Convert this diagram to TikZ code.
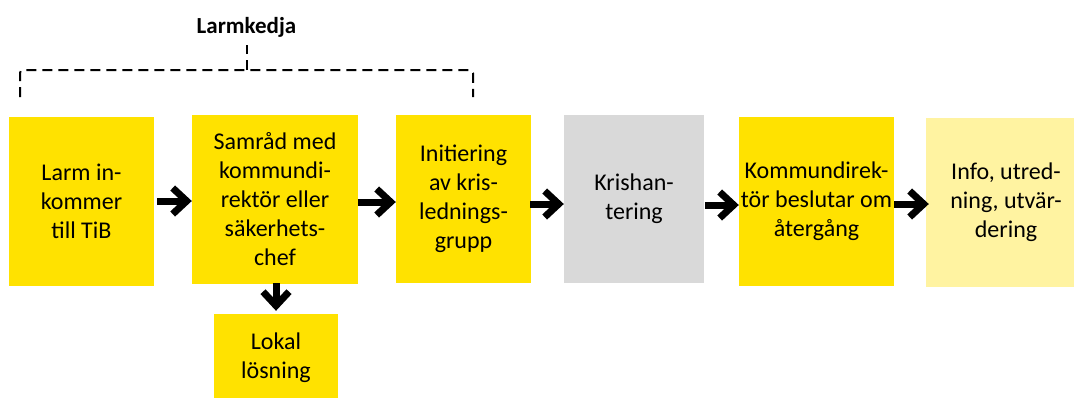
\documentclass[tikz,border=0pt]{standalone}
\usepackage{fontspec}
\setmainfont{Carlito}
\usetikzlibrary{arrows.meta,positioning}
\definecolor{boxyellow}{HTML}{FFE200}
\definecolor{boxgrey}{HTML}{D9D9D9}
\definecolor{boxpale}{HTML}{FFF3A1}
\tikzset{
  stage/.style={rectangle,fill=boxyellow,inner sep=0pt,align=center,
    font=\fontsize{24}{29}\selectfont},
  flow/.style={line width=7pt,-{Straight Barb[length=14pt,width=26pt]}},
  chain/.style={line width=2pt,dash pattern=on 10pt off 6pt},
}
\begin{document}
\begin{tikzpicture}[x=1pt,y=-1pt]
\useasboundingbox (0,0) rectangle (1074,397);
% \draw[help lines] (0,0) grid (1074,397);
\node (larm) [stage,minimum width=145pt,minimum height=169pt] at (81.5,201.5) {Larm in-\\kommer\\till TiB};
\node (samrad) [stage,minimum width=166pt,minimum height=169pt] at (275,199.5) {Samråd med\\kommundi-\\rektör eller\\säkerhets-\\chef};
\node (init) [stage,minimum width=135pt,minimum height=168pt] at (463.5,199) {Initiering\\av kris-\\lednings-\\grupp};
\node (kris) [stage,fill=boxgrey,minimum width=140pt,minimum height=168pt] at (634,199) {Krishan-\\tering};
\node (beslut) [stage,minimum width=155pt,minimum height=169pt] at (816.5,201.5) {Kommundirek-\\tör beslutar om\\återgång};
\node (info) [stage,fill=boxpale,minimum width=160pt,minimum height=169pt] at (1006,202.5) {Info, utred-\\ning, utvär-\\dering};
\node (lokal) [stage,minimum width=124pt,minimum height=88pt] at (276,358) {Lokal\\lösning};
%
\node (kedja) [font=\fontsize{23}{27}\bfseries\selectfont] at (246.5,27) {Larmkedja};
\coordinate (kl) at (20,97);
\coordinate (km) at (247,70);
\coordinate (kr) at (473,97);
\coordinate (kt) at (247,45);
\draw[chain,rounded corners=3pt] (kl) |- (km) -| (kr);
\draw[chain] (km) -- (kt);
%
\draw[flow] ([xshift=3pt]larm.east |- 0,201) -- (samrad.west |- 0,201);
\draw[flow] (samrad.east |- 0,202) -- (init.west |- 0,202);
\draw[flow] ([xshift=-1pt]init.east |- 0,204) -- (kris.west |- 0,204);
\draw[flow] ([xshift=1pt]kris.east |- 0,205) -- (beslut.west |- 0,205);
\draw[flow] (beslut.east |- 0,204) -- ([xshift=3pt]info.west |- 0,204);
\draw[flow] ([yshift=1pt]samrad.south -| lokal.north) -- ([yshift=3pt]lokal.north);
\end{tikzpicture}
\end{document}
